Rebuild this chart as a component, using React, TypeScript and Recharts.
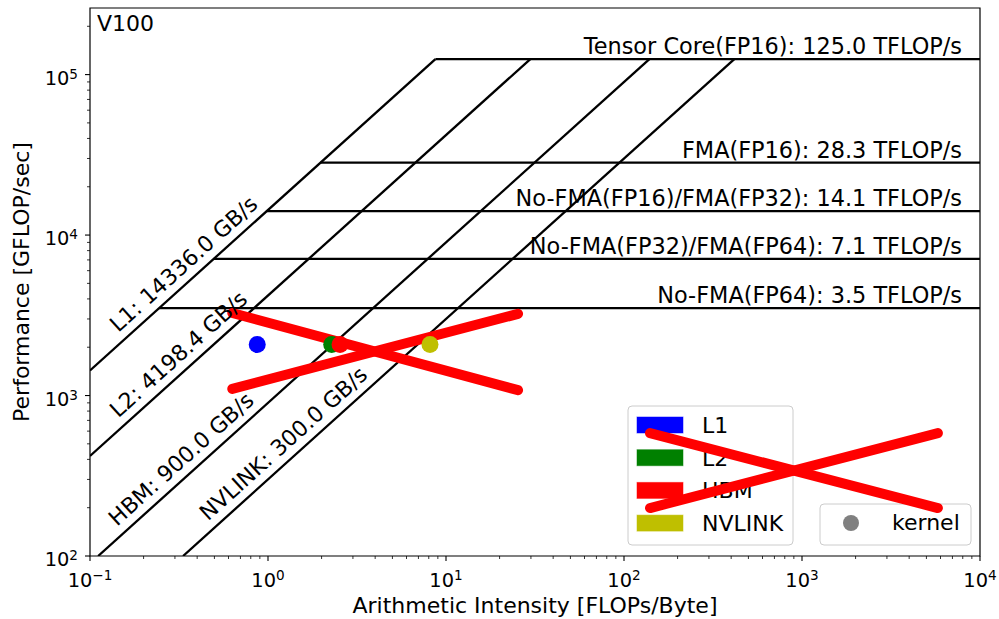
import React from 'react'
import { ComposedChart, Line, Scatter, XAxis, YAxis, ReferenceDot, ReferenceArea, Customized } from 'recharts'

const FONT = '"DejaVu Sans", sans-serif'

// memory levels, bandwidth in GB/s
const levels = ['L1', 'L2', 'HBM', 'NVLINK']
const bandwidths = [14336.0, 4198.4, 900.0, 300.0]
const levelColors = ['#0000ff', '#008000', '#ff0000', '#bfbf00']
// arithmetic intensity where each bandwidth label starts
const labelStartAI = [0.144, 0.144, 0.142, 0.46]

// compute ceilings in GFLOP/s
const roofNames = ['Tensor Core(FP16)', 'FMA(FP16)', 'No-FMA(FP16)/FMA(FP32)', 'No-FMA(FP32)/FMA(FP64)', 'No-FMA(FP64)']
const roofValues = [125000, 28300, 14100, 7100, 3500]

// the kernel, measured against each memory level
const kernelAI = [0.87, 2.28, 2.54, 8.13]
const kernelPerf = [2080, 2080, 2080, 2080]

// red strike-through marks (two crosses)
const crossAX = [0.63, 25.4]
const crossAY = [3270, 1080]
const crossBX = [0.63, 25.4]
const crossBY = [1100, 3230]
const crossCX = [140, 5800]
const crossCY = [583, 199]
const crossDX = [140, 5800]
const crossDY = [199, 583]

const xMajor = [0.1, 1, 10, 100, 1000, 10000]
const yMajor = [100, 1000, 10000, 100000]
const X_DOMAIN = [0.1, 10000]
const Y_DOMAIN = [100, 260000]

const withMinor = (major: number[], max: number) => {
  const out: number[] = []
  major.forEach(m => {
    for (let k = 1; k <= 9; k++) {
      const v = m * k
      if (v <= max * 1.0000001) out.push(v)
    }
  })
  return Array.from(new Set(out.map(v => +v.toPrecision(6)))).sort((a, b) => a - b)
}
const xTicks = withMinor(xMajor, X_DOMAIN[1])
const yTicks = withMinor(yMajor, Y_DOMAIN[1])

const isMajor = (v: number) => Math.abs(Math.log10(v) - Math.round(Math.log10(v))) < 1e-6
const expText = (v: number) => {
  const e = Math.round(Math.log10(v))
  return e < 0 ? '\u2212' + -e : String(e)
}

const XTick = ({ x, y, payload }: any) => {
  const v = payload.value
  const major = isMajor(v)
  return (
    <g>
      <line x1={x} x2={x} y1={y} y2={y + (major ? 5 : 3)} stroke="#000" strokeWidth={major ? 1.1 : 0.8} />
      {major && (
        <text x={x} y={y + 31} textAnchor="middle" fontFamily={FONT} fontSize={19.4} fill="#000">
          10<tspan dy={-7} fontSize={13.6}>{expText(v)}</tspan>
        </text>
      )}
    </g>
  )
}

const YTick = ({ x, y, payload }: any) => {
  const v = payload.value
  const major = isMajor(v)
  return (
    <g>
      <line x1={x} x2={x - (major ? 5 : 3)} y1={y} y2={y} stroke="#000" strokeWidth={major ? 1.1 : 0.8} />
      {major && (
        <text x={x - 12} y={y + 10} textAnchor="end" fontFamily={FONT} fontSize={19.4} fill="#000">
          10<tspan dy={-6} fontSize={13.6}>{expText(v)}</tspan>
        </text>
      )}
    </g>
  )
}

const maxRoof = Math.max(...roofValues)
const maxBw = Math.max(...bandwidths)

const bwLines = bandwidths.map(bw => {
  const x0 = Math.max(X_DOMAIN[0], Y_DOMAIN[0] / bw)
  const x1 = maxRoof / bw
  return [{ x: x0, y: bw * x0 }, { x: x1, y: bw * x1 }]
})
const roofLines = roofValues.map(r => [{ x: r / maxBw, y: r }, { x: X_DOMAIN[1], y: r }])
const crosses = [
  [crossAX, crossAY],
  [crossBX, crossBY],
  [crossCX, crossCY],
  [crossDX, crossDY],
].map(([xs, ys]) => xs.map((x, i) => ({ x, y: ys[i] })))

const SLOPE_DEG = -42

const Legends = () => (
  <g fontFamily={FONT} fontSize={22} fill="#000">
    <text x={97} y={31}>V100</text>
    <rect x={628} y={406} width={165} height={139} rx={4} fill="#fff" fillOpacity={0.8} stroke="#cccccc" />
    {levels.map((l, i) => (
      <g key={l}>
        <rect x={637} y={417 + i * 32.7} width={46} height={16} fill={levelColors[i]} stroke={levelColors[i]} strokeOpacity={0.5} />
        <text x={702} y={433 + i * 32.7}>{l}</text>
      </g>
    ))}
    <rect x={820} y={504} width={151} height={41} rx={4} fill="#fff" fillOpacity={0.8} stroke="#cccccc" />
    <circle cx={851} cy={523} r={8} fill="#808080" />
    <text x={892} y={530}>kernel</text>
    <text x={535} y={613} textAnchor="middle">Arithmetic Intensity [FLOPs/Byte]</text>
    <text transform="translate(29,282) rotate(-90)" textAnchor="middle">Performance [GFLOP/sec]</text>
  </g>
)

export default function App() {
  return (
    <div style={{ position: 'absolute', left: 0, top: 0, background: '#fff' }}>
      <ComposedChart width={999} height={619} margin={{ top: 8, right: 19, left: 0, bottom: 0 }}>
        <XAxis dataKey="x" type="number" scale="log" domain={X_DOMAIN} allowDataOverflow ticks={xTicks}
          height={63} tickSize={0} tickMargin={0} axisLine={false} tickLine={false} tick={<XTick />} interval={0} />
        <YAxis dataKey="y" type="number" scale="log" domain={Y_DOMAIN} allowDataOverflow ticks={yTicks}
          width={90} tickSize={0} tickMargin={0} axisLine={false} tickLine={false} tick={<YTick />} interval={0} />
        <ReferenceArea x1={X_DOMAIN[0]} x2={X_DOMAIN[1]} y1={Y_DOMAIN[0]} y2={Y_DOMAIN[1]} ifOverflow="visible"
          fill="none" stroke="#000" strokeWidth={1.2} />
        {bwLines.map((d, i) => (
          <Line key={'bw' + i} data={d} dataKey="y" stroke="#000" strokeWidth={2.3} dot={false} activeDot={false} isAnimationActive={false} />
        ))}
        {roofLines.map((d, i) => (
          <Line key={'roof' + i} data={d} dataKey="y" stroke="#000" strokeWidth={2.3} dot={false} activeDot={false} isAnimationActive={false} />
        ))}
        {roofValues.map((r, i) => (
          <ReferenceDot key={'rl' + i} x={X_DOMAIN[1]} y={r} ifOverflow="visible"
            shape={(p: any) => (
              <text x={p.cx - 18} y={p.cy - 5} textAnchor="end" fontFamily={FONT} fontSize={22.4} fill="#000">
                {`${roofNames[i]}: ${(r / 1000).toFixed(1)} TFLOP/s`}
              </text>
            )} />
        ))}
        {bandwidths.map((bw, i) => (
          <ReferenceDot key={'bl' + i} x={labelStartAI[i]} y={bw * labelStartAI[i]} ifOverflow="visible"
            shape={(p: any) => (
              <text transform={`translate(${p.cx},${p.cy - 12}) rotate(${SLOPE_DEG})`} fontFamily={FONT} fontSize={22} fill="#000">
                {`${levels[i]}: ${bw.toFixed(1)} GB/s`}
              </text>
            )} />
        ))}
        {levels.map((l, i) => (
          <Scatter key={'k' + l} data={[{ x: kernelAI[i], y: kernelPerf[i] }]} fill={levelColors[i]} isAnimationActive={false}
            shape={(p: any) => <circle cx={p.cx} cy={p.cy} r={8.5} fill={levelColors[i]} />} />
        ))}
        <Customized component={<Legends />} />
        {crosses.map((d, i) => (
          <Line key={'x' + i} data={d} dataKey="y" stroke="#ff0000" strokeWidth={10} strokeLinecap="round"
            dot={false} activeDot={false} isAnimationActive={false} />
        ))}
      </ComposedChart>
    </div>
  )
}
